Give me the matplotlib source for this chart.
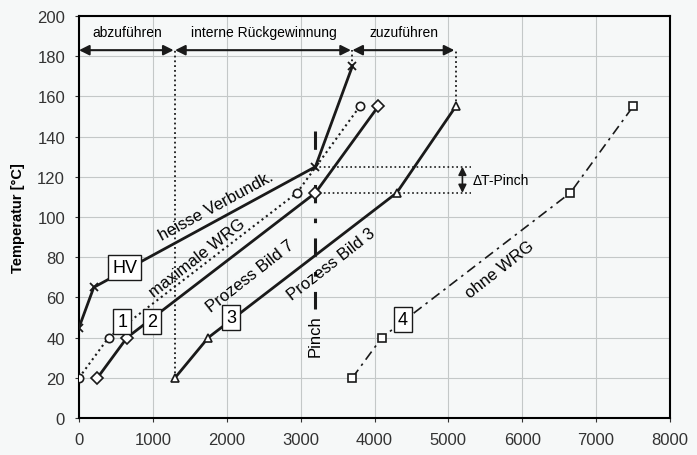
import numpy as np
import matplotlib
matplotlib.use("Agg")
import matplotlib.pyplot as plt

# heat flow [kW] vs temperature [degC]
hv_x = [0, 200, 3200, 3700]
hv_y = [45, 65, 125, 175]

wrg_max_x = [0, 400, 2950, 3800]
wrg_max_y = [20, 40, 112, 155]

bild7_x = [250, 650, 3200, 4050]
bild7_y = [20, 40, 112, 155]

bild3_x = [1300, 1750, 4300, 5100]
bild3_y = [20, 40, 112, 155]

ohne_x = [3700, 4100, 6650, 7500]
ohne_y = [20, 40, 112, 155]

pinch_x = 3200
pinch_hot = 125
pinch_cold = 112

# section limits for the arrows on top
sections = [0, 1300, 3700, 5100]
section_labels = ["abzuführen", "interne Rückgewinnung", "zuzuführen"]

plt.rcParams["font.family"] = ["Liberation Sans", "DejaVu Sans"]
plt.rcParams["font.size"] = 10

fig = plt.figure(figsize=(6.97, 4.56), dpi=100)
fig.patch.set_facecolor("#f6f8f8")
ax = fig.add_axes([79 / 697, 1 - 419 / 456, 591 / 697, 402 / 456])
ax.set_facecolor("#f6f8f8")

ax.set_xlim(0, 8000)
ax.set_ylim(0, 200)
ax.set_xticks(np.arange(0, 8001, 1000))
ax.set_yticks(np.arange(0, 201, 20))
ax.grid(True, color="#c4c8c8", linewidth=0.8)
ax.set_axisbelow(True)
for s in ax.spines.values():
    s.set_linewidth(1.5)
ax.tick_params(labelsize=12, length=3, pad=7, colors="#333333")
ax.set_ylabel("Temperatur [°C]", fontsize=10.5, fontweight="bold", labelpad=9)

k = "#1a1a1a"
ax.plot(hv_x, hv_y, color=k, lw=2, marker="x", ms=6, mew=1.3, zorder=4)
ax.plot(wrg_max_x, wrg_max_y, color=k, lw=1.5, ls=":", marker="o", ms=6,
        mfc="white", mec=k, mew=1.2, zorder=3)
ax.plot(bild7_x, bild7_y, color=k, lw=2, marker="D", ms=6,
        mfc="white", mec=k, mew=1.2, zorder=3)
ax.plot(bild3_x, bild3_y, color=k, lw=2, marker="^", ms=6,
        mfc="white", mec=k, mew=1.2, zorder=3)
ax.plot(ohne_x, ohne_y, color=k, lw=1.2, dashes=(6, 3, 1.5, 3), marker="s", ms=6,
        mfc="white", mec=k, mew=1.2, zorder=3)

# pinch line
ax.plot([pinch_x, pinch_x], [143, 54], color=k, lw=2.2, dashes=(6, 5, 1.5, 5), zorder=2)
ax.text(pinch_x, 41, "Pinch", rotation=90, ha="center", va="center", fontsize=12)

# delta T pinch
ax.plot([pinch_x, 5300], [pinch_hot, pinch_hot], color=k, lw=1.2, ls=":")
ax.plot([pinch_x, 5300], [pinch_cold, pinch_cold], color=k, lw=1.2, ls=":")
ax.annotate("", xy=(5190, pinch_hot), xytext=(5190, pinch_cold),
            arrowprops=dict(arrowstyle="<|-|>", color=k, lw=1.2, mutation_scale=12,
                            shrinkA=0, shrinkB=0))
ax.text(5330, (pinch_hot + pinch_cold) / 2, "ΔT-Pinch", ha="left", va="center", fontsize=10)

# vertical dotted limits
ax.plot([sections[1]] * 2, [bild3_y[0], 183], color=k, lw=1.3, ls=":")
ax.plot([sections[2]] * 2, [hv_y[-1], 183], color=k, lw=1.3, ls=":")
ax.plot([sections[3]] * 2, [bild3_y[-1], 183], color=k, lw=1.3, ls=":")

# arrows on top
for a, b, lab in zip(sections[:-1], sections[1:], section_labels):
    ax.annotate("", xy=(b, 183), xytext=(a, 183),
                arrowprops=dict(arrowstyle="<|-|>", color=k, lw=1.5, mutation_scale=15,
                                shrinkA=0, shrinkB=1))
    ax.text((a + b) / 2, 192, lab, ha="center", va="center", fontsize=10)

# curve labels
rot_kw = dict(ha="center", va="center", rotation_mode="anchor", fontsize=12)
ax.text(1850, 105.5, "heisse Verbundk.", rotation=28.5, **rot_kw)
ax.text(1600, 80, "maximale WRG", rotation=38, **rot_kw)
ax.text(2320, 71, "Prozess Bild 7", rotation=38, **rot_kw)
ax.text(3420, 77, "Prozess Bild 3", rotation=38, **rot_kw)
ax.text(5700, 74, "ohne WRG", rotation=38, **rot_kw)

box = dict(boxstyle="square,pad=0.22", fc="white", ec=k, lw=1)
for x, y, t in [(620, 75, "HV"), (585, 48, "1"), (990, 48, "2"),
                (2060, 50, "3"), (4380, 49, "4")]:
    ax.text(x, y, t, ha="center", va="center", fontsize=13, bbox=box, zorder=5)

fig.savefig("out.png", dpi=100, facecolor=fig.get_facecolor())
